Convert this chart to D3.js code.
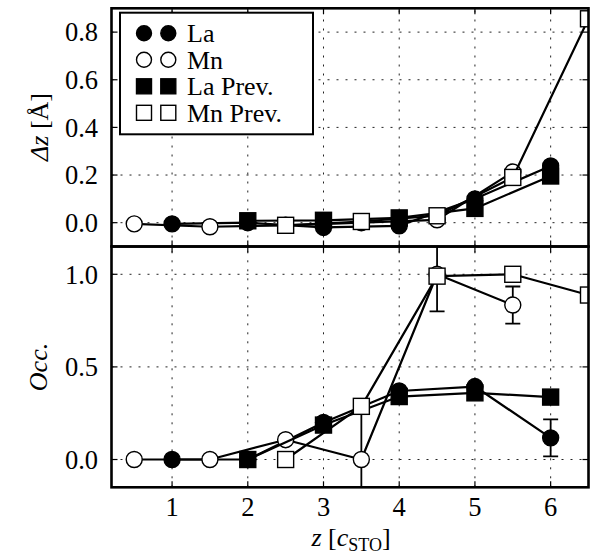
<!DOCTYPE html>
<html><head><meta charset="utf-8">
<script src="https://cdn.jsdelivr.net/npm/d3@7/dist/d3.min.js"></script>
<style>
body{margin:0;background:#fff;}
</style></head>
<body><svg id="c" width="591" height="557" font-family="'Liberation Serif', 'Times New Roman', serif"></svg>
<script>
// ---- data ----
const laZ = [1, 2, 3, 4, 5, 6];
const mnZ = [0.5, 1.5, 2.5, 3.5, 4.5, 5.5];
const laPrevZ = [2, 3, 4, 5, 6];
const mnPrevZ = [2.5, 3.5, 4.5, 5.5, 6.5];

const laDz = [-0.005, 0.0, -0.02, -0.013, 0.10, 0.238];
const mnDz = [-0.005, -0.017, -0.011, 0.0, 0.012, 0.213];
const laPrevDz = [0.008, 0.01, 0.02, 0.06, 0.196];
const mnPrevDz = [-0.011, 0.005, 0.029, 0.19, 0.856];

const laOcc = [0.0, 0.0, 0.20, 0.37, 0.394, 0.117];
const laOccErr = [0, 0, 0, 0, 0, 0.1];
const mnOcc = [0.0, 0.0, 0.107, 0.0, 1.0, 0.834];
const mnOccErr = [0, 0, 0, 0.3, 0.2, 0.1];
const laPrevOcc = [0.0, 0.186, 0.34, 0.36, 0.337];
const mnPrevOcc = [0.0, 0.287, 0.99, 1.0, 0.888];

const xTicks = [1, 2, 3, 4, 5, 6];
const dzTicks = [0.0, 0.2, 0.4, 0.6, 0.8];
const occTicks = [0.0, 0.5, 1.0];
const legendLabels = ["La", "Mn", "La Prev.", "Mn Prev."];

// ---- layout ----
const FONT = "'Liberation Serif', 'Times New Roman', serif";
const svg = d3.select("#c");
const L = 111.5, R = 588.5;
const x = d3.scaleLinear().domain([0.2, 6.5]).range([L, R]);
const yTop = d3.scaleLinear().domain([-0.1, 0.9]).range([246.5, 8.3]);
const yBot = d3.scaleLinear().domain([-0.15, 1.15]).range([487.3, 246.5]);

const series = [
  {name: legendLabels[0], shape: "circle", fill: "#000", z: laZ, dz: laDz, occ: laOcc, err: laOccErr},
  {name: legendLabels[1], shape: "circle", fill: "#fff", z: mnZ, dz: mnDz, occ: mnOcc, err: mnOccErr},
  {name: legendLabels[2], shape: "square", fill: "#000", z: laPrevZ, dz: laPrevDz, occ: laPrevOcc, err: null},
  {name: legendLabels[3], shape: "square", fill: "#fff", z: mnPrevZ, dz: mnPrevDz, occ: mnPrevOcc, err: null},
];

function marker(g, shape, fill, cx, cy, size) {
  if (shape === "circle") {
    g.append("circle").attr("cx", cx).attr("cy", cy).attr("r", size / 2)
      .attr("fill", fill).attr("stroke", "#000").attr("stroke-width", 1.4);
  } else {
    g.append("rect").attr("x", cx - size / 2).attr("y", cy - size / 2)
      .attr("width", size).attr("height", size)
      .attr("fill", fill).attr("stroke", "#000").attr("stroke-width", 1.4);
  }
}

function txt(g) {
  return g.append("text").attr("font-family", FONT).attr("fill", "#000");
}

function panel(id, y, ticks, key, showX) {
  const [y0, y1] = y.range();
  const g = svg.append("g");
  g.append("clipPath").attr("id", id).append("rect")
    .attr("x", L).attr("y", y1).attr("width", R - L).attr("height", y0 - y1);
  // grid
  const grid = g.append("g").attr("stroke", "#222").attr("stroke-width", 1.0)
    .attr("stroke-dasharray", "2,7");
  xTicks.forEach(t => grid.append("line").attr("x1", x(t)).attr("x2", x(t)).attr("y1", y0).attr("y2", y1));
  ticks.forEach(t => grid.append("line").attr("x1", L).attr("x2", R).attr("y1", y(t)).attr("y2", y(t)));
  // data
  const dg = g.append("g").attr("clip-path", `url(#${id})`);
  const line = d3.line().x(d => x(d[0])).y(d => y(d[1]));
  series.forEach(s => {
    const pts = s.z.map((z, i) => [z, s[key][i]]);
    dg.append("path").attr("d", line(pts)).attr("fill", "none")
      .attr("stroke", "#000").attr("stroke-width", 2.2).attr("stroke-linejoin", "round");
    if (key === "occ" && s.err) {
      s.z.forEach((z, i) => {
        const e = s.err[i];
        if (!e) return;
        const v = s.occ[i];
        dg.append("line").attr("x1", x(z)).attr("x2", x(z)).attr("y1", y(v - e)).attr("y2", y(v + e))
          .attr("stroke", "#000").attr("stroke-width", 1.8);
        [v - e, v + e].forEach(c => dg.append("line").attr("x1", x(z) - 7.5).attr("x2", x(z) + 7.5)
          .attr("y1", y(c)).attr("y2", y(c)).attr("stroke", "#000").attr("stroke-width", 1.8));
      });
    }
    pts.forEach(p => marker(dg, s.shape, s.fill, x(p[0]), y(p[1]), 16));
  });
  // ticks (inward, all sides)
  const tk = g.append("g").attr("stroke", "#000").attr("stroke-width", 1.2);
  xTicks.forEach(t => {
    tk.append("line").attr("x1", x(t)).attr("x2", x(t)).attr("y1", y0).attr("y2", y0 - 6);
    tk.append("line").attr("x1", x(t)).attr("x2", x(t)).attr("y1", y1).attr("y2", y1 + 6);
  });
  ticks.forEach(t => {
    tk.append("line").attr("x1", L).attr("x2", L + 6).attr("y1", y(t)).attr("y2", y(t));
    tk.append("line").attr("x1", R).attr("x2", R - 6).attr("y1", y(t)).attr("y2", y(t));
  });
  // frame
  g.append("rect").attr("x", L).attr("y", y1).attr("width", R - L).attr("height", y0 - y1)
    .attr("fill", "none").attr("stroke", "#000").attr("stroke-width", 2.6);
  // y tick labels
  ticks.forEach(t => txt(g).attr("x", 98).attr("y", y(t)).attr("dy", "0.35em")
    .attr("text-anchor", "end").attr("font-size", 26.5).text(d3.format(".1f")(t)));
  if (showX) {
    xTicks.forEach(t => txt(g).attr("x", x(t)).attr("y", 516)
      .attr("text-anchor", "middle").attr("font-size", 26.5).text(t));
  }
  return g;
}

panel("clipTop", yTop, dzTicks, "dz", false);
panel("clipBot", yBot, occTicks, "occ", true);

// axis labels
const lbl1 = txt(svg).attr("transform", "translate(48,127) rotate(-90)")
  .attr("text-anchor", "middle").attr("font-size", 26);
lbl1.append("tspan").attr("font-style", "italic").text("Δz");
lbl1.append("tspan").text(" [Å]");
txt(svg).attr("transform", "translate(47,367) rotate(-90)")
  .attr("text-anchor", "middle").attr("font-size", 26).attr("font-style", "italic").text("Occ.");
const xl = txt(svg).attr("x", 351).attr("y", 546).attr("text-anchor", "middle").attr("font-size", 26);
xl.append("tspan").attr("font-style", "italic").text("z");
xl.append("tspan").text(" [");
xl.append("tspan").attr("font-style", "italic").text("c");
xl.append("tspan").attr("font-size", 18).attr("dy", 5).text("STO");
xl.append("tspan").attr("dy", -5).text("]");

// legend
const lg = svg.append("g");
lg.append("rect").attr("x", 120).attr("y", 12.7).attr("width", 193).attr("height", 121.6)
  .attr("fill", "#fff").attr("stroke", "#000").attr("stroke-width", 2);
series.forEach((s, i) => {
  const yy = 33.3 + i * 26.5;
  marker(lg, s.shape, s.fill, 144, yy, 15);
  marker(lg, s.shape, s.fill, 168.3, yy, 15);
  txt(lg).attr("x", 187).attr("y", yy).attr("dy", "0.35em").attr("font-size", 26).text(s.name);
});
</script></body></html>
